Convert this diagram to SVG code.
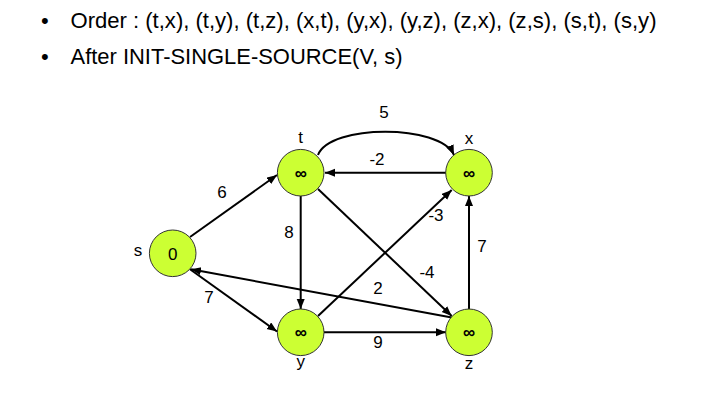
<svg xmlns="http://www.w3.org/2000/svg" width="707" height="408" viewBox="0 0 707 408">
<style>
.title{font-family:"Liberation Sans",Arial,sans-serif;font-size:22px;fill:#000}
.lbl{font-family:"Liberation Sans",Arial,sans-serif;font-size:17px;fill:#000;text-anchor:middle}
.val{font-family:"Liberation Sans",Arial,sans-serif;fill:#000;text-anchor:middle}
.inf{font-family:"Liberation Sans",Arial,sans-serif;fill:#000;text-anchor:middle;font-size:17px;font-weight:bold}
.node{fill:#ccff33;stroke:#333;stroke-width:1}
.edge{stroke:#000;stroke-width:2;fill:none;marker-end:url(#arr)}
</style>
<defs>
<marker id="arr" markerUnits="userSpaceOnUse" markerWidth="11" markerHeight="9" refX="10" refY="4" orient="auto">
<path d="M0,0 L10,4 L0,8 z" fill="#000"/>
</marker>
</defs>
<rect width="707" height="408" fill="#fff"/>
<g id="title">
<text class="title" x="41" y="28">•</text>
<text class="title" x="70.5" y="28" textLength="586" lengthAdjust="spacingAndGlyphs">Order : (t,x), (t,y), (t,z), (x,t), (y,x), (y,z), (z,x), (z,s), (s,t), (s,y)</text>
<text class="title" x="41" y="64">•</text>
<text class="title" x="70.5" y="64" textLength="332" lengthAdjust="spacingAndGlyphs">After INIT-SINGLE-SOURCE(V, s)</text>
</g>
<g id="edges">
<line class="edge" x1="190" y1="237" x2="277" y2="175"/>
<path class="edge" d="M318,155 C330,124 440,124 454,155"/>
<line class="edge" x1="446" y1="172.7" x2="325" y2="172.7"/>
<line class="edge" x1="300.7" y1="196" x2="300.7" y2="309"/>
<line class="edge" x1="318" y1="189" x2="451.7" y2="316"/>
<line class="edge" x1="318" y1="316" x2="451.7" y2="190"/>
<line class="edge" x1="469" y1="309" x2="469" y2="196"/>
<line class="edge" x1="324" y1="332.3" x2="446" y2="332.3"/>
<line class="edge" x1="451.7" y1="317.5" x2="191" y2="269.3"/>
<line class="edge" x1="190" y1="269.3" x2="277" y2="331.5"/>
<text class="lbl" x="222" y="198">6</text>
<text class="lbl" x="384" y="118">5</text>
<text class="lbl" x="377" y="165">-2</text>
<text class="lbl" x="289" y="238">8</text>
<text class="lbl" x="436" y="221">-3</text>
<text class="lbl" x="482" y="252">7</text>
<text class="lbl" x="427" y="278">-4</text>
<text class="lbl" x="378" y="294">2</text>
<text class="lbl" x="378" y="348">9</text>
<text class="lbl" x="209" y="303">7</text>
</g>
<g id="node-s">
<circle class="node" cx="172.7" cy="253.3" r="23.3"/>
<text class="val" x="172.7" y="259.5" font-size="17">0</text>
<text class="lbl" x="138" y="256">s</text>
</g>
<g id="node-t">
<circle class="node" cx="300.7" cy="172.7" r="23.3"/>
<text class="inf" x="300.7" y="178.5">∞</text>
<text class="lbl" x="300.7" y="143">t</text>
</g>
<g id="node-x">
<circle class="node" cx="469" cy="172.7" r="23.3"/>
<text class="inf" x="469" y="178.5">∞</text>
<text class="lbl" x="469" y="144">x</text>
</g>
<g id="node-y">
<circle class="node" cx="300.7" cy="332.3" r="23.3"/>
<text class="inf" x="300.7" y="338">∞</text>
<text class="lbl" x="300.7" y="367">y</text>
</g>
<g id="node-z">
<circle class="node" cx="469" cy="332.3" r="23.3"/>
<text class="inf" x="469" y="338">∞</text>
<text class="lbl" x="469" y="369">z</text>
</g>
</svg>
